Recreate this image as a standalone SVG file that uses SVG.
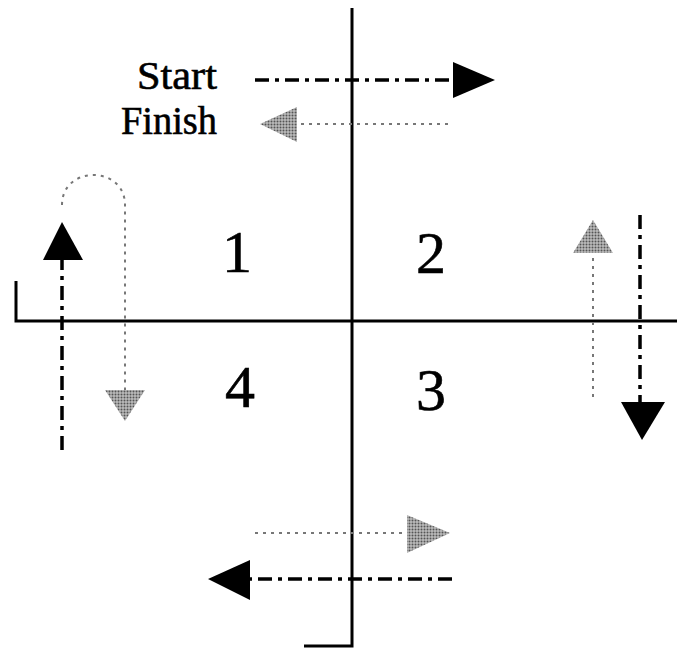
<svg xmlns="http://www.w3.org/2000/svg" width="681" height="648" viewBox="0 0 681 648">
<defs>
<pattern id="stip" width="3" height="3" patternUnits="userSpaceOnUse">
<rect width="3" height="3" fill="#bbb"/>
<circle cx="1.5" cy="1.5" r="1" fill="#555"/>
</pattern>
</defs>
<style>
.axis{stroke:#000;stroke-width:3;fill:none}
.blk{stroke:#000;stroke-width:3.5;fill:none;stroke-dasharray:14 6 4 6}
.gry{stroke:#777;stroke-width:2;fill:none;stroke-dasharray:3 5}
.bh{fill:#000}
.gh{fill:url(#stip)}
.lbl{font-family:"Liberation Serif","Times New Roman",serif;fill:#000;stroke:#000;stroke-width:0.6}
</style>
<rect width="681" height="648" fill="#fff"/>
<g id="axes">
<path class="axis" d="M352,8 V646 H304"/>
<path class="axis" d="M677,321 H16 V281"/>
</g>
<g id="labels">
<text class="lbl" x="217" y="89" font-size="39" text-anchor="end" textLength="80" lengthAdjust="spacingAndGlyphs">Start</text>
<text class="lbl" x="217" y="134" font-size="39" text-anchor="end" textLength="96" lengthAdjust="spacingAndGlyphs">Finish</text>
<text class="lbl" x="237" y="272" font-size="60" text-anchor="middle">1</text>
<text class="lbl" x="431" y="273" font-size="60" text-anchor="middle">2</text>
<text class="lbl" x="431" y="410" font-size="60" text-anchor="middle">3</text>
<text class="lbl" x="240" y="407" font-size="60" text-anchor="middle">4</text>
</g>
<g id="connectors">
<path class="blk" d="M255,80 H455"/>
<polygon class="bh" points="453,62 495,80 453,98"/>
<path class="gry" d="M448,124 H298"/>
<polygon class="gh" points="297,107 260,124 297,142"/>
<path class="blk" d="M62,450 V258"/>
<polygon class="bh" points="43,260 62,222 83,260"/>
<path class="gry" d="M62,205 C62,165 125,165 125,205 V390"/>
<polygon class="gh" points="105,390 145,390 125,421"/>
<path class="gry" d="M593,397 V253"/>
<polygon class="gh" points="573,253 593,220 613,253"/>
<path class="blk" d="M640,215 V402"/>
<polygon class="bh" points="621,402 665,402 642,440"/>
<path class="gry" d="M255,533 H407"/>
<polygon class="gh" points="407,515 450,533 407,553"/>
<path class="blk" d="M452,579 H250"/>
<polygon class="bh" points="250,560 208,579 250,600"/>
</g>
</svg>
